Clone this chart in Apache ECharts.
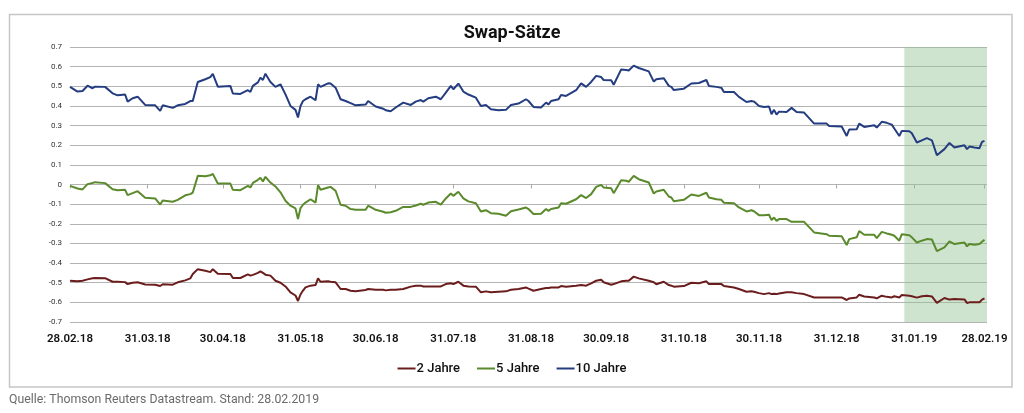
<!DOCTYPE html>
<html><head><meta charset="utf-8">
<script src="https://cdn.jsdelivr.net/npm/echarts@6/dist/echarts.min.js"></script>
<style>html,body{margin:0;padding:0;background:#fff}#c{width:1024px;height:413px}</style>
</head><body><div id="c"></div>
<script>
const dates = [
'2018-02-28','2018-03-03','2018-03-05','2018-03-07','2018-03-09','2018-03-10','2018-03-14','2018-03-17','2018-03-19','2018-03-22',
'2018-03-23','2018-03-25','2018-03-27','2018-03-30','2018-04-03','2018-04-05','2018-04-06','2018-04-10','2018-04-12','2018-04-15',
'2018-04-17','2018-04-18','2018-04-20','2018-04-23','2018-04-25','2018-04-26','2018-04-28','2018-05-03','2018-05-04','2018-05-07',
'2018-05-10','2018-05-11','2018-05-12','2018-05-14','2018-05-15','2018-05-16','2018-05-17','2018-05-19','2018-05-21','2018-05-23',
'2018-05-25','2018-05-27','2018-05-29','2018-05-30','2018-05-31','2018-06-01','2018-06-02','2018-06-04','2018-06-06','2018-06-07',
'2018-06-08','2018-06-11','2018-06-12','2018-06-14','2018-06-16','2018-06-18','2018-06-20','2018-06-22','2018-06-26','2018-06-27',
'2018-06-30','2018-07-03','2018-07-04','2018-07-06','2018-07-08','2018-07-11','2018-07-14','2018-07-16','2018-07-18','2018-07-19',
'2018-07-21','2018-07-24','2018-07-26','2018-07-28','2018-07-30','2018-07-31','2018-08-02','2018-08-04','2018-08-06','2018-08-09',
'2018-08-11','2018-08-13','2018-08-15','2018-08-18','2018-08-21','2018-08-23','2018-08-26','2018-08-29','2018-08-30','2018-09-01',
'2018-09-04','2018-09-06','2018-09-07','2018-09-08','2018-09-11','2018-09-12','2018-09-14','2018-09-18','2018-09-20','2018-09-22',
'2018-09-24','2018-09-26','2018-09-28','2018-09-29','2018-10-02','2018-10-03','2018-10-06','2018-10-08','2018-10-09','2018-10-11',
'2018-10-13','2018-10-17','2018-10-19','2018-10-20','2018-10-23','2018-10-25','2018-10-26','2018-10-27','2018-10-31','2018-11-03',
'2018-11-06','2018-11-09','2018-11-10','2018-11-13','2018-11-15','2018-11-16','2018-11-20','2018-11-22','2018-11-25','2018-11-27',
'2018-11-28','2018-11-30','2018-12-02','2018-12-04','2018-12-05','2018-12-06','2018-12-07','2018-12-08','2018-12-11','2018-12-13',
'2018-12-15','2018-12-18','2018-12-22','2018-12-27','2018-12-28','2019-01-02','2019-01-04','2019-01-05','2019-01-08','2019-01-09',
'2019-01-11','2019-01-15','2019-01-16','2019-01-18','2019-01-20','2019-01-22','2019-01-23','2019-01-25','2019-01-26','2019-01-29',
'2019-01-30','2019-02-01','2019-02-03','2019-02-05','2019-02-07','2019-02-09','2019-02-12','2019-02-14','2019-02-16','2019-02-20',
'2019-02-21','2019-02-22','2019-02-24','2019-02-26','2019-02-27','2019-02-28'
];
const y10 = [
0.497,0.473,0.476,0.503,0.490,0.498,0.497,0.464,0.454,0.458,
0.422,0.439,0.447,0.405,0.403,0.375,0.403,0.390,0.403,0.410,
0.425,0.425,0.522,0.536,0.547,0.563,0.498,0.502,0.463,0.461,
0.480,0.471,0.502,0.520,0.544,0.532,0.564,0.522,0.497,0.510,
0.459,0.400,0.380,0.341,0.400,0.425,0.434,0.447,0.429,0.510,
0.497,0.515,0.514,0.493,0.434,0.425,0.414,0.403,0.407,0.425,
0.397,0.386,0.378,0.373,0.392,0.417,0.405,0.422,0.430,0.422,
0.439,0.447,0.434,0.468,0.502,0.485,0.514,0.473,0.458,0.442,
0.400,0.405,0.383,0.378,0.380,0.405,0.412,0.434,0.425,0.395,
0.392,0.417,0.408,0.425,0.434,0.456,0.451,0.480,0.515,0.497,
0.522,0.553,0.547,0.532,0.531,0.508,0.586,0.583,0.580,0.605,
0.593,0.576,0.524,0.536,0.541,0.502,0.497,0.481,0.488,0.514,
0.517,0.532,0.502,0.497,0.492,0.471,0.471,0.446,0.420,0.425,
0.422,0.400,0.395,0.397,0.358,0.380,0.356,0.371,0.369,0.390,
0.369,0.366,0.310,0.310,0.298,0.295,0.247,0.280,0.281,0.310,
0.293,0.302,0.290,0.319,0.314,0.305,0.285,0.247,0.273,0.271,
0.261,0.214,0.225,0.236,0.225,0.149,0.180,0.212,0.188,0.200,
0.180,0.193,0.188,0.185,0.217,0.222
];
const y5 = [
-0.007,-0.020,-0.025,0.002,0.008,0.012,0.007,-0.024,-0.029,-0.027,
-0.054,-0.044,-0.034,-0.068,-0.071,-0.102,-0.081,-0.088,-0.078,-0.055,
-0.049,-0.041,0.044,0.042,0.047,0.054,0.005,0.005,-0.027,-0.029,
-0.007,-0.015,0.008,0.024,0.034,0.015,0.039,0.010,-0.010,-0.040,
-0.083,-0.108,-0.122,-0.176,-0.120,-0.103,-0.092,-0.075,-0.092,-0.003,
-0.027,-0.015,-0.012,-0.032,-0.103,-0.108,-0.125,-0.129,-0.129,-0.108,
-0.129,-0.139,-0.144,-0.141,-0.134,-0.114,-0.114,-0.107,-0.098,-0.103,
-0.092,-0.088,-0.102,-0.071,-0.046,-0.058,-0.037,-0.071,-0.086,-0.095,
-0.137,-0.131,-0.146,-0.149,-0.159,-0.136,-0.127,-0.117,-0.125,-0.150,
-0.149,-0.125,-0.134,-0.125,-0.117,-0.095,-0.098,-0.075,-0.054,-0.069,
-0.049,-0.012,-0.002,-0.015,-0.019,-0.044,0.022,0.019,0.014,0.044,
0.027,0.010,-0.046,-0.036,-0.027,-0.061,-0.066,-0.085,-0.078,-0.051,
-0.058,-0.042,-0.066,-0.075,-0.078,-0.093,-0.095,-0.117,-0.137,-0.131,
-0.136,-0.156,-0.156,-0.154,-0.181,-0.168,-0.185,-0.176,-0.176,-0.190,
-0.190,-0.190,-0.244,-0.253,-0.261,-0.264,-0.308,-0.278,-0.269,-0.237,
-0.256,-0.256,-0.273,-0.241,-0.249,-0.256,-0.261,-0.286,-0.253,-0.258,
-0.269,-0.295,-0.286,-0.278,-0.280,-0.339,-0.320,-0.290,-0.303,-0.295,
-0.315,-0.303,-0.307,-0.303,-0.292,-0.281
];
const y2 = [
-0.490,-0.493,-0.490,-0.483,-0.477,-0.476,-0.477,-0.495,-0.495,-0.497,
-0.507,-0.500,-0.498,-0.509,-0.510,-0.517,-0.508,-0.510,-0.498,-0.488,
-0.478,-0.456,-0.431,-0.439,-0.446,-0.431,-0.454,-0.456,-0.476,-0.476,
-0.458,-0.464,-0.460,-0.450,-0.442,-0.450,-0.459,-0.464,-0.490,-0.500,
-0.519,-0.549,-0.565,-0.593,-0.560,-0.540,-0.524,-0.515,-0.512,-0.478,
-0.495,-0.493,-0.495,-0.498,-0.532,-0.532,-0.541,-0.544,-0.537,-0.532,
-0.536,-0.536,-0.539,-0.536,-0.536,-0.532,-0.520,-0.515,-0.515,-0.519,
-0.519,-0.519,-0.519,-0.507,-0.503,-0.507,-0.495,-0.515,-0.519,-0.520,
-0.549,-0.544,-0.549,-0.546,-0.544,-0.536,-0.532,-0.524,-0.530,-0.541,
-0.532,-0.527,-0.527,-0.524,-0.524,-0.517,-0.520,-0.515,-0.512,-0.515,
-0.503,-0.490,-0.485,-0.498,-0.510,-0.507,-0.493,-0.490,-0.490,-0.469,
-0.478,-0.490,-0.498,-0.508,-0.495,-0.512,-0.515,-0.520,-0.517,-0.500,
-0.503,-0.493,-0.507,-0.507,-0.507,-0.517,-0.524,-0.532,-0.546,-0.544,
-0.546,-0.553,-0.558,-0.553,-0.558,-0.556,-0.558,-0.555,-0.549,-0.549,
-0.553,-0.558,-0.575,-0.575,-0.575,-0.575,-0.588,-0.580,-0.575,-0.561,
-0.570,-0.575,-0.580,-0.566,-0.572,-0.575,-0.569,-0.575,-0.563,-0.566,
-0.569,-0.576,-0.569,-0.566,-0.570,-0.603,-0.578,-0.586,-0.583,-0.585,
-0.603,-0.600,-0.600,-0.600,-0.586,-0.580
];
const seriesNames = ['2 Jahre', '5 Jahre', '10 Jahre'];
const tickDates = ['2018-02-28','2018-03-31','2018-04-30','2018-05-31','2018-06-30','2018-07-31','2018-08-31','2018-09-30','2018-10-31','2018-11-30','2018-12-31','2019-01-31','2019-02-28'];
const tickLabels = ['28.02.18','31.03.18','30.04.18','31.05.18','30.06.18','31.07.18','31.08.18','30.09.18','31.10.18','30.11.18','31.12.18','31.01.19','28.02.19'];
const xRange = ['2018-02-28', '2019-03-01'];
const shadeRange = ['2019-01-27', '2019-03-01'];
const titleText = 'Swap-Sätze';
const sourceText = 'Quelle: Thomson Reuters Datastream. Stand: 28.02.2019';

function ts(s) { const p = s.split('-'); return Date.UTC(+p[0], +p[1] - 1, +p[2]); }
const tickTs = tickDates.map(ts);
function pairs(vals) { return dates.map((d, i) => [ts(d), vals[i]]); }

const FONT = "Roboto, 'Noto Sans', sans-serif";
const chart = echarts.init(document.getElementById('c'), null, { renderer: 'canvas' });
chart.setOption({
  animation: false,
  backgroundColor: '#ffffff',
  textStyle: { fontFamily: FONT },
  title: {
    text: titleText, left: 'center', top: 19,
    textStyle: { fontFamily: FONT, fontSize: 18, fontWeight: 'bold', color: '#111' }
  },
  legend: {
    data: seriesNames, bottom: 33, left: 'center',
    icon: 'rect', itemWidth: 18, itemHeight: 2, itemGap: 17,
    textStyle: { fontFamily: FONT, fontSize: 13, fontWeight: 500, color: '#111', padding: [0, 0, 0, -4] }
  },
  grid: { left: 70, right: 37, top: 47, bottom: 91, containLabel: false },
  xAxis: [
    {
      type: 'value', min: ts(xRange[0]), max: ts(xRange[1]), position: 'bottom',
      axisLine: { show: false, onZero: false }, axisTick: { show: false }, splitLine: { show: false },
      axisLabel: {
        customValues: tickTs, margin: 11, hideOverlap: false, showMinLabel: true, showMaxLabel: true,
        fontFamily: FONT, fontSize: 11.5, fontWeight: 600, color: '#111',
        formatter: function (v) { const i = tickTs.indexOf(v); return i >= 0 ? tickLabels[i] : ''; }
      }
    },
    {
      type: 'value', min: ts(xRange[0]), max: ts(xRange[1]), position: 'bottom',
      axisLine: { show: false, onZero: true }, splitLine: { show: false },
      axisTick: { show: true, customValues: tickTs, length: 4, lineStyle: { color: '#a8a8a8', width: 1 } },
      axisLabel: { show: false }
    }
  ],
  yAxis: {
    type: 'value', min: -0.7, max: 0.7, interval: 0.1,
    axisLine: { show: false }, axisTick: { show: false },
    splitLine: { lineStyle: { color: '#b4b4b4', width: 1.2 } },
    axisLabel: {
      margin: 8, fontFamily: FONT, fontSize: 8, color: '#333',
      formatter: function (v) { const s = v.toFixed(1); return (s === '0.0' || s === '-0.0') ? '0' : s; }
    }
  },
  series: [
    {
      name: seriesNames[0], type: 'line', data: pairs(y2), showSymbol: false, symbol: 'none',
      lineStyle: { color: '#6b1d1d', width: 2 }, itemStyle: { color: '#6b1d1d' }, z: 3,
      markArea: {
        silent: true,
        itemStyle: { color: 'rgba(150,196,150,0.46)' },
        data: [[{ xAxis: ts(shadeRange[0]) }, { xAxis: ts(shadeRange[1]) }]]
      }
    },
    {
      name: seriesNames[1], type: 'line', data: pairs(y5), showSymbol: false, symbol: 'none',
      lineStyle: { color: '#5a8a2b', width: 2 }, itemStyle: { color: '#5a8a2b' }, z: 3
    },
    {
      name: seriesNames[2], type: 'line', data: pairs(y10), showSymbol: false, symbol: 'none',
      lineStyle: { color: '#243c80', width: 2 }, itemStyle: { color: '#243c80' }, z: 3
    }
  ],
  graphic: [
    {
      type: 'rect', silent: true, z: -1,
      shape: { x: 9.5, y: 14.5, width: 1002.5, height: 372.5 },
      style: { fill: 'none', stroke: '#c6c6c6', lineWidth: 1.5 }
    },
    {
      type: 'text', left: 9, top: 394, silent: true,
      style: { text: sourceText, fontFamily: FONT, fontSize: 12.3, fontWeight: 400, fill: '#6a6a6a' }
    }
  ]
});
</script>
</body></html>
